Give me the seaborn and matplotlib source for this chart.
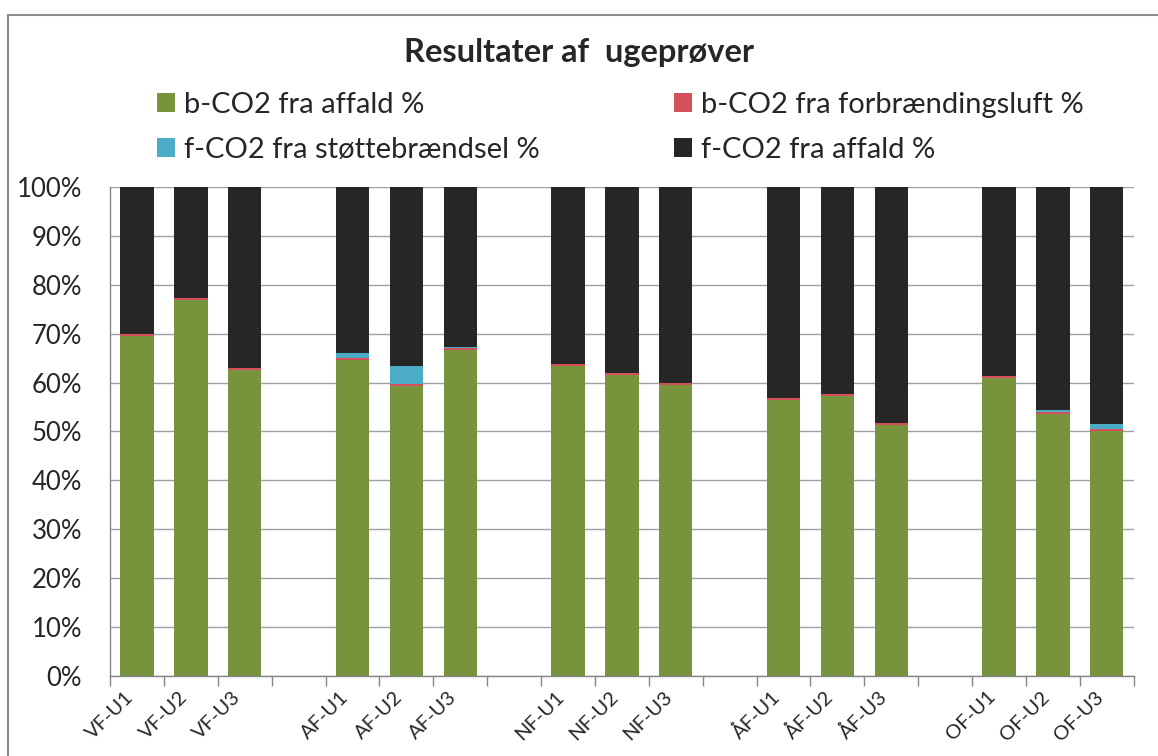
import matplotlib
matplotlib.use("Agg")
import matplotlib.pyplot as plt
import matplotlib.patches as mpatches
import seaborn as sns
import pandas as pd
import numpy as np

sns.set_theme(style="white")
plt.rcParams["font.family"] = ["Lato", "DejaVu Sans"]

# Samples per plant (empty slots separate the plants)
categories = ["VF-U1", "VF-U2", "VF-U3", "",
              "AF-U1", "AF-U2", "AF-U3", "",
              "NF-U1", "NF-U2", "NF-U3", "",
              "ÅF-U1", "ÅF-U2", "ÅF-U3", "",
              "OF-U1", "OF-U2", "OF-U3"]

# Shares in percent (None for empty slots)
b_affald = [69.6, 76.8, 62.6, None, 64.6, 59.3, 66.7, None, 63.4, 61.6, 59.5, None,
            56.4, 57.3, 51.3, None, 61.0, 53.6, 50.1]
b_luft = [0.4, 0.4, 0.4, None, 0.4, 0.5, 0.3, None, 0.3, 0.4, 0.4, None,
          0.4, 0.4, 0.4, None, 0.4, 0.4, 0.4]
f_stotte = [0.0, 0.0, 0.0, None, 1.1, 3.5, 0.2, None, 0.1, 0.0, 0.0, None,
            0.1, 0.0, 0.0, None, 0.0, 0.3, 1.0]
f_affald = [30.0, 22.8, 37.0, None, 33.9, 36.7, 32.8, None, 36.2, 38.0, 40.1, None,
            43.1, 42.3, 48.3, None, 38.6, 45.7, 48.5]

series_names = ["b-CO2 fra affald %", "b-CO2 fra forbrændingsluft %",
                "f-CO2 fra støttebrændsel %", "f-CO2 fra affald %"]
colors = ["#77933C", "#D6505C", "#4BACC6", "#262626"]

keys = [f"slot{i}" for i in range(len(categories))]
data = np.array([[np.nan if v is None else v for v in s]
                 for s in (b_affald, b_luft, f_stotte, f_affald)])
cum = np.cumsum(data, axis=0)

fig = plt.figure(figsize=(11.58, 7.56), dpi=100)
ax = fig.add_axes([0.095, 0.1058, 0.884, 0.647])

# Stacked bars: draw cumulative totals from the top layer down
for layer in range(3, -1, -1):
    df = pd.DataFrame({"slot": keys, "value": cum[layer]})
    sns.barplot(data=df, x="slot", y="value", order=keys, color=colors[layer],
                saturation=1, width=0.62, ax=ax, errorbar=None, edgecolor="none")

ax.set_ylim(0, 100)
ax.set_xlim(-0.5, len(keys) - 0.5)
ax.set_yticks(np.arange(0, 101, 10))
ax.set_yticklabels([f"{v}%" for v in range(0, 101, 10)], fontsize=18.5)
ax.yaxis.grid(True, color="#A0A0A0", linewidth=1)
ax.set_axisbelow(True)
ax.set_xlabel("")
ax.set_ylabel("")

# Tick marks between categories; rotated labels end just left of each category centre
ax.set_xticks(np.arange(-0.5, len(keys), 1.0))
ax.set_xticklabels([])
ax.tick_params(axis="x", which="major", length=7, color="#868686", width=1, direction="out",
               bottom=True)
ax.set_xticks(np.arange(len(keys)) - 0.12, minor=True)
ax.set_xticklabels(categories, minor=True, rotation=45, ha="right", va="center",
                   rotation_mode="anchor", fontsize=14.5)
ax.tick_params(axis="x", which="minor", length=0, pad=13)
ax.tick_params(axis="y", length=0, pad=20)

for side in ("top", "right"):
    ax.spines[side].set_visible(False)
for side in ("left", "bottom"):
    ax.spines[side].set_color("#868686")
    ax.spines[side].set_linewidth(1)

fig.text(0.5, 0.931, "Resultater af  ugeprøver", ha="center", va="center",
         fontsize=23.5, fontweight="bold")

# Legend filled column by column, so order handles to read row by row
order = [0, 2, 1, 3]
handles = [mpatches.Patch(facecolor=colors[i], edgecolor="none") for i in order]
labels = [series_names[i] for i in order]
leg = fig.legend(handles, labels, ncol=2, loc="upper left",
                 bbox_to_anchor=(157 / 1158, 1 - 92 / 756), frameon=False, fontsize=21,
                 handlelength=0.62, handleheight=0.62, handletextpad=0.3,
                 columnspacing=4.6, labelspacing=0.65, borderpad=0, borderaxespad=0)

# Chart frame
fig.add_artist(mpatches.Rectangle((8 / 1158, -0.05), 1.2, (756 - 15) / 756 + 0.05,
                                  transform=fig.transFigure, fill=False,
                                  edgecolor="#8C8C8C", linewidth=1.5))

fig.savefig("out.png", dpi=100)
